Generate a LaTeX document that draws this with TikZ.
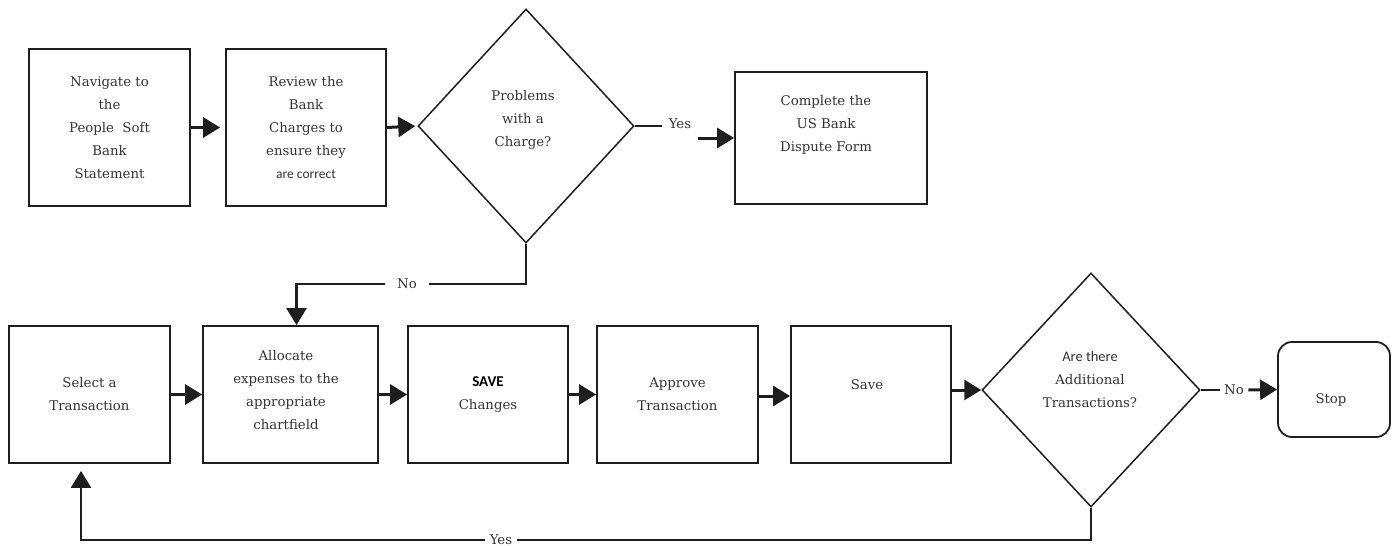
\documentclass[tikz,border=0pt]{standalone}
\usepackage{fontspec}
\setmainfont{DejaVu Serif}
\newfontfamily\carl{Carlito}
\usetikzlibrary{shapes.geometric,arrows.meta}
\definecolor{txt}{HTML}{333333}
\definecolor{ln}{HTML}{1E1E1E}
\tikzset{
  sty/.style={font=\fontsize{13.3}{23}\selectfont, text=txt, align=center},
  boxn/.style={sty, draw=ln, line width=1.8pt, rectangle, inner sep=0pt},
  dian/.style={draw=ln, line width=1.5pt, diamond, inner sep=0pt},
  tlab/.style={sty, inner ysep=0pt},
  lin/.style={draw=ln, line width=2pt},
  arr/.style={draw=ln, line width=3pt, -{Triangle[length=17pt,width=20pt]}},
}
\begin{document}
\begin{tikzpicture}[x=1pt,y=-1pt]
\useasboundingbox (0,0) rectangle (1393,546);
% top row
\node[boxn, minimum width=161pt, minimum height=157pt] (b1) at (109.5,127.5)
  {Navigate to\\the\\People~~Soft\\Bank\\Statement};
\node[boxn, minimum width=160pt, minimum height=157pt] (b2) at (306,127.5)
  {Review the\\Bank\\Charges to\\ensure they\\{\carl\fontsize{13.5}{23}\selectfont are correct}};
\node[dian, minimum width=216pt, minimum height=234pt] (d1) at (526,126) {};
\node[tlab] (td1) at (523,120) {Problems\\with a\\Charge?};
\node[boxn, minimum width=192pt, minimum height=132pt] (b3) at (831,138) {};
\node[tlab] (tb3) at (826,125) {Complete the\\US Bank\\Dispute Form};
% bottom row
\node[boxn, minimum width=161pt, minimum height=137pt] (b5) at (89.5,394.5)
  {Select a\\Transaction};
\node[boxn, minimum width=175pt, minimum height=137pt] (b6) at (290.5,394.5) {};
\node[tlab] (tb6) at (286,390) {Allocate\\expenses to the\\appropriate\\chartfield};
\node[boxn, minimum width=160pt, minimum height=137pt] (b7) at (488,394.5)
  {{\carl\bfseries\fontsize{15}{23}\selectfont\color{black}SAVE}\\Changes};
\node[boxn, minimum width=161pt, minimum height=137pt] (b8) at (677.5,394.5)
  {Approve\\Transaction};
\node[boxn, minimum width=160pt, minimum height=137pt] (b9) at (871,394.5) {};
\node[tlab] (tb9) at (867,385) {Save};
\node[dian, minimum width=218pt, minimum height=234pt] (d2) at (1091,390) {};
\node[tlab] (td2) at (1090,380)
  {{\carl\fontsize{14.5}{23}\selectfont Are there}\\Additional\\Transactions?};
\node[boxn, rounded corners=14pt, minimum width=112pt, minimum height=95pt] (stop) at (1334,389.5) {};
\node[tlab] (tstop) at (1331,400) {Stop};
% labels
\node[tlab, inner xsep=7pt] (yes1) at (680,124) {Yes};
\node[tlab, inner xsep=12pt] (no1) at (407,284) {No};
\node[tlab, inner xsep=4.7pt, fill=white] (yes2) at (501,540) {Yes};
\node[tlab, inner xsep=4.4pt] (no2) at (1234,390) {No};
% connectors
\draw[arr, shorten >=5pt] (b1.east) -- (b2.west);
\draw[arr, shorten >=2pt] (b2.east) -- (d1.west);
\draw[lin] (d1.east) -- (d1.east -| yes1.west);
\draw[arr] (yes1.east |- b3.west) -- (b3.west);
\draw[lin] (d1.south) |- (no1.east);
\draw[arr, line width=2.2pt] (no1.west) -| ([xshift=6pt]b6.north);
\draw[arr] (b5.east) -- (b6.west);
\draw[arr] (b6.east) -- (b7.west);
\draw[arr] (b7.east) -- (b8.west);
\draw[arr] ([yshift=-1.5pt]b8.east) -- ([yshift=-1.5pt]b9.west);
\draw[arr] (b9.east |- d2.west) -- (d2.west);
\draw[lin] (d2.east) -- (no2.west);
\draw[arr] (no2.east) -- (stop.west);
\draw[lin] (d2.south) |- (yes2.east);
\draw[arr, line width=2.5pt] (yes2.west) -| ([xshift=-8.5pt,yshift=-7pt]b5.south);
\end{tikzpicture}
\end{document}
